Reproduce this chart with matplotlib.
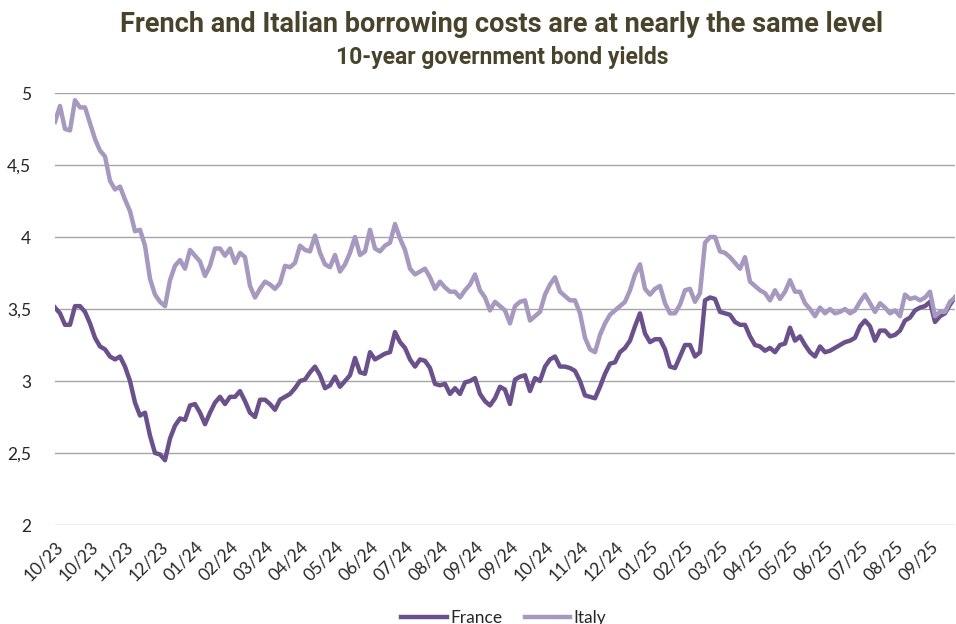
import matplotlib.pyplot as plt
import numpy as np

# 10-year yields (one value every ~3 trading days)
france = [3.51, 3.47, 3.39, 3.39, 3.52, 3.52, 3.48, 3.40, 3.30, 3.24,
          3.22, 3.17, 3.15, 3.17, 3.10, 3.00, 2.85, 2.76, 2.78, 2.62,
          2.50, 2.49, 2.45, 2.60, 2.69, 2.74, 2.73, 2.83, 2.84, 2.78,
          2.70, 2.78, 2.85, 2.89, 2.84, 2.89, 2.89, 2.93, 2.86, 2.78,
          2.75, 2.87, 2.87, 2.84, 2.80, 2.87, 2.89, 2.91, 2.95, 3.00,
          3.01, 3.06, 3.10, 3.04, 2.95, 2.97, 3.03, 2.96, 3.00, 3.04,
          3.16, 3.06, 3.05, 3.20, 3.15, 3.17, 3.19, 3.20, 3.34, 3.27,
          3.23, 3.15, 3.10, 3.15, 3.14, 3.09, 2.98, 2.97, 2.98, 2.91,
          2.95, 2.91, 2.99, 3.00, 3.02, 2.91, 2.86, 2.83, 2.88, 2.96,
          2.94, 2.84, 3.01, 3.03, 3.04, 2.93, 3.02, 3.00, 3.10, 3.15,
          3.17, 3.10, 3.10, 3.09, 3.07, 3.00, 2.90, 2.89, 2.88, 2.96,
          3.05, 3.12, 3.13, 3.20, 3.23, 3.28, 3.38, 3.47, 3.33, 3.27,
          3.29, 3.29, 3.22, 3.10, 3.09, 3.17, 3.25, 3.25, 3.17, 3.20,
          3.56, 3.58, 3.57, 3.48, 3.47, 3.46, 3.41, 3.39, 3.39, 3.31,
          3.25, 3.24, 3.21, 3.23, 3.20, 3.25, 3.26, 3.37, 3.28, 3.31,
          3.25, 3.20, 3.17, 3.24, 3.20, 3.21, 3.23, 3.25, 3.27, 3.28,
          3.30, 3.38, 3.42, 3.38, 3.28, 3.35, 3.35, 3.31, 3.32, 3.35,
          3.42, 3.44, 3.49, 3.51, 3.52, 3.55, 3.41, 3.45, 3.47, 3.53,
          3.58]

italy = [4.80, 4.91, 4.75, 4.74, 4.95, 4.90, 4.90, 4.79, 4.68, 4.60,
         4.56, 4.39, 4.33, 4.35, 4.26, 4.18, 4.04, 4.05, 3.94, 3.71,
         3.60, 3.55, 3.52, 3.70, 3.80, 3.84, 3.78, 3.91, 3.87, 3.83,
         3.73, 3.80, 3.92, 3.92, 3.87, 3.92, 3.82, 3.89, 3.86, 3.66,
         3.58, 3.64, 3.69, 3.67, 3.64, 3.68, 3.80, 3.79, 3.82, 3.94,
         3.91, 3.90, 4.01, 3.89, 3.81, 3.79, 3.875, 3.76, 3.81, 3.89,
         4.00, 3.875, 3.90, 4.05, 3.92, 3.90, 3.94, 3.96, 4.09, 3.99,
         3.91, 3.78, 3.74, 3.76, 3.78, 3.72, 3.64, 3.69, 3.65, 3.62,
         3.62, 3.58, 3.63, 3.67, 3.74, 3.63, 3.58, 3.49, 3.55, 3.52,
         3.49, 3.40, 3.52, 3.55, 3.56, 3.42, 3.45, 3.48, 3.60, 3.67,
         3.72, 3.62, 3.59, 3.56, 3.56, 3.47, 3.30, 3.22, 3.20, 3.32,
         3.40, 3.46, 3.49, 3.52, 3.55, 3.63, 3.74, 3.81, 3.64, 3.60,
         3.64, 3.66, 3.54, 3.47, 3.47, 3.53, 3.63, 3.64, 3.55, 3.61,
         3.96, 4.00, 4.00, 3.90, 3.89, 3.86, 3.82, 3.78, 3.86, 3.69,
         3.66, 3.63, 3.61, 3.56, 3.63, 3.57, 3.62, 3.70, 3.62, 3.62,
         3.54, 3.50, 3.45, 3.51, 3.47, 3.50, 3.47, 3.48, 3.50, 3.47,
         3.49, 3.55, 3.60, 3.54, 3.48, 3.54, 3.51, 3.47, 3.49, 3.45,
         3.60, 3.57, 3.58, 3.56, 3.58, 3.62, 3.45, 3.48, 3.48, 3.55,
         3.58]

month_labels = ["10/23", "10/23", "11/23", "12/23", "01/24", "02/24", "03/24",
                "04/24", "05/24", "06/24", "07/24", "08/24", "09/24", "09/24",
                "10/24", "11/24", "12/24", "01/25", "02/25", "03/25", "04/25",
                "05/25", "06/25", "07/25", "08/25", "09/25"]
label_every = 7

y_ticks = [2, 2.5, 3, 3.5, 4, 4.5, 5]
y_labels = ["2", "2,5", "3", "3,5", "4", "4,5", "5"]

plt.rcParams['font.family'] = ['Lato', 'DejaVu Sans']

x = np.arange(len(france))

fig = plt.figure(figsize=(9.56, 6.24), dpi=100)
ax = fig.add_axes([55/956, 1 - 525/624, 900/956, 432/624])

ax.plot(x, france, color="#6a518c", lw=3.2, label="France", solid_joinstyle="round")
ax.plot(x, italy, color="#a698be", lw=3.2, label="Italy", solid_joinstyle="round")

ax.set_xlim(0, len(france) - 1)
ax.set_ylim(2, 5)
ax.set_yticks(y_ticks)
ax.set_yticklabels(y_labels)
ax.set_xticks(np.arange(len(month_labels)) * label_every)
ax.set_xticklabels(month_labels, rotation=45, ha="right", va="top",
                   rotation_mode="anchor")
ax.tick_params(length=0, labelsize=12.5, colors="#262626")
ax.tick_params(axis="y", pad=17)
ax.tick_params(axis="x", pad=10)
ax.grid(axis="y", color="#a6a6a6", lw=1)
ax.set_axisbelow(True)
for s in ax.spines.values():
    s.set_visible(False)

fig.text(0.525, 0.96, "French and Italian borrowing costs are at nearly the same level",
         ha="center", va="center", fontsize=19.5, fontweight="bold",
         color="#49432b", family="Roboto")
fig.text(0.525, 0.908, "10-year government bond yields", ha="center", va="center",
         fontsize=16.5, fontweight="bold", color="#49432b", family="Roboto")

fig.legend(loc="center", bbox_to_anchor=(0.527, 0.01), ncol=2, frameon=False,
           fontsize=12.5, handlelength=2.6, handletextpad=0.2, columnspacing=1.3,
           labelcolor="#262626")

fig.savefig("out.png", dpi=100)
